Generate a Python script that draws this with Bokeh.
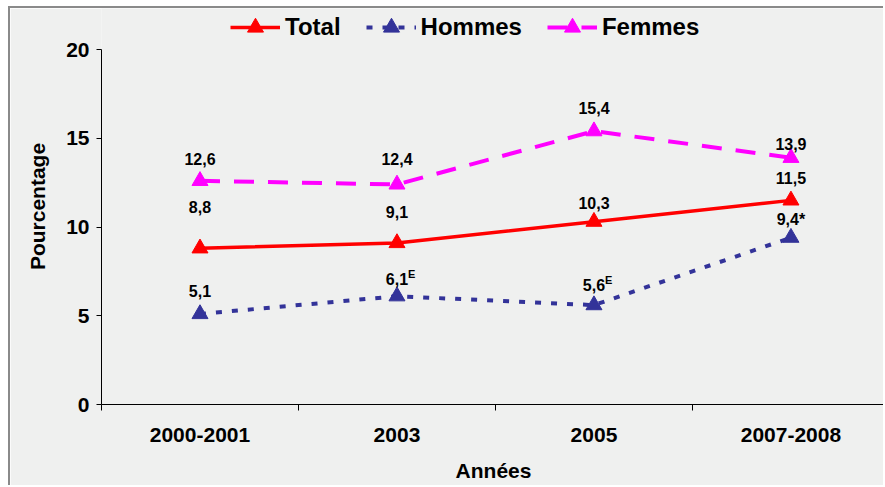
from bokeh.plotting import figure
from bokeh.models import ColumnDataSource, FixedTicker, Legend, LegendItem, Range1d
from bokeh.core.properties import value
from bokeh.embed import file_html
from bokeh.resources import INLINE

# ---- data ----
categories = ["2000-2001", "2003", "2005", "2007-2008"]
total = [8.8, 9.1, 10.3, 11.5]
hommes = [5.1, 6.1, 5.6, 9.4]
femmes = [12.6, 12.4, 15.4, 13.9]
total_labels = ["8,8", "9,1", "10,3", "11,5"]
hommes_labels = ["5,1", "6,1", "5,6", "9,4*"]
hommes_notes = ["", "E", "E", ""]
femmes_labels = ["12,6", "12,4", "15,4", "13,9"]
y_ticks = [0, 5, 10, 15, 20]

# ---- styles ----
FONT_NAME = "Liberation Sans"
FONT = value(FONT_NAME)
BG = "#EFF0EF"
RED = "#FF0000"
BLUE = "#333399"
MAGENTA = "#FF00FF"
total_dy = [-41, -31, -19, -22]
hommes_dy = [-23, -17, -20, -18]
femmes_dy = [-22, -25, -23, -14]

x = [i + 0.5 for i in range(len(categories))]

# frame top is extended above the y axis (axis bounded to 0..20) to hold the legend
p = figure(width=875, height=479, output_backend="svg", toolbar_location=None,
           x_range=Range1d(0, 3.98), y_range=Range1d(0, 22.31),
           min_border_left=91, min_border_right=0, min_border_top=0,
           min_border_bottom=83,
           background_fill_color=BG, border_fill_color=BG)
p.styles = {"margin-left": "8px", "margin-top": "6px",
            "border-left": "2px solid #8a8a8a", "border-top": "2px solid #8a8a8a"}
p.outline_line_color = None
p.grid.visible = False

# axes
p.xaxis.ticker = FixedTicker(ticks=x, minor_ticks=[0, 1, 2, 3, 4])
p.xaxis.major_label_overrides = {xi: c for xi, c in zip(x, categories)}
p.xaxis.major_tick_out = 0
p.xaxis.major_tick_in = 0
p.xaxis.minor_tick_out = 6
p.xaxis.minor_tick_in = 0
p.xaxis.major_label_standoff = 17
p.xaxis.axis_label = "Années"
p.xaxis.axis_label_standoff = 14

p.yaxis.ticker = FixedTicker(ticks=y_ticks, minor_ticks=[])
p.yaxis.bounds = (y_ticks[0], y_ticks[-1])
p.yaxis.major_tick_out = 5
p.yaxis.major_tick_in = 0
p.yaxis.major_label_standoff = 7
p.yaxis.axis_label = "Pourcentage"
p.yaxis.axis_label_standoff = 14

for ax in (p.xaxis, p.yaxis):
    ax.axis_line_color = "black"
    ax.major_tick_line_color = "black"
    ax.minor_tick_line_color = "black"
    ax.major_label_text_font = FONT_NAME
    ax.major_label_text_font_style = "bold"
    ax.major_label_text_font_size = "21px"
    ax.major_label_text_color = "black"
    ax.axis_label_text_font = FONT_NAME
    ax.axis_label_text_font_style = "bold"
    ax.axis_label_text_font_size = "21px"
    ax.axis_label_text_color = "black"

# series
def series(vals, color, dash, width):
    src = ColumnDataSource(dict(x=x, y=vals))
    ln = p.line("x", "y", source=src, line_color=color, line_width=width, line_dash=dash)
    mk = p.scatter("x", "y", source=src, marker="triangle", size=16,
                   fill_color=color, line_color=color)
    return [ln, mk]

r_total = series(total, RED, "solid", 3.5)
r_hommes = series(hommes, BLUE, "6 10", 4)
r_femmes = series(femmes, MAGENTA, "20 14", 4)

# data labels
def labels(vals, texts, dy):
    src = ColumnDataSource(dict(x=x, y=vals, t=texts, dy=dy))
    p.text("x", "y", text="t", y_offset="dy", source=src, text_font=FONT,
           text_font_style="bold", text_font_size="16px", text_color="black",
           text_align="center", text_baseline="middle")

labels(total, total_labels, total_dy)
labels(hommes, hommes_labels, hommes_dy)
labels(femmes, femmes_labels, femmes_dy)

sup_idx = [i for i, n in enumerate(hommes_notes) if n]
sup_src = ColumnDataSource(dict(x=[x[i] for i in sup_idx],
                                y=[hommes[i] for i in sup_idx],
                                t=[hommes_notes[i] for i in sup_idx],
                                dy=[hommes_dy[i] - 5 for i in sup_idx]))
p.text("x", "y", text="t", y_offset="dy", x_offset=11, source=sup_src, text_font=FONT,
       text_font_style="bold", text_font_size="11px", text_color="black",
       text_align="left", text_baseline="middle")

legend = Legend(items=[LegendItem(label="Total", renderers=r_total),
                       LegendItem(label="Hommes", renderers=r_hommes),
                       LegendItem(label="Femmes", renderers=r_femmes)],
                orientation="horizontal", location=(129, 357),
                background_fill_alpha=0, border_line_color=None,
                glyph_width=50, glyph_height=40, label_standoff=5, spacing=25,
                padding=0, margin=0,
                label_text_font=FONT_NAME, label_text_font_style="bold",
                label_text_font_size="24px", label_text_color="black")
p.add_layout(legend, "center")

open("out.html", "w").write(file_html(p, INLINE))
